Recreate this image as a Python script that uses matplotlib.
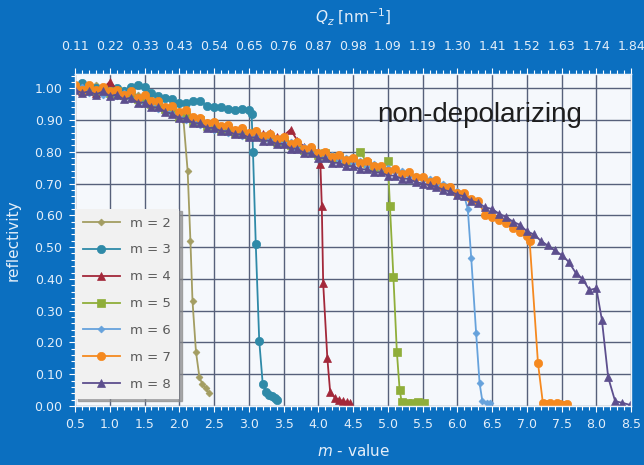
import numpy as np
import matplotlib
matplotlib.use("Agg")
import matplotlib.pyplot as plt
from matplotlib.ticker import MultipleLocator

# --- data (m-value vs reflectivity) ---
# plateau points sit on a 0.1 grid starting at m = 0.5, the cut-off points are listed by hand
m2_plateau = [1.01, 0.99, 1.005, 1.01, 0.99, 1.00, 0.985, 0.995, 0.975, 0.98,
              0.96, 0.96, 0.945, 0.94, 0.925, 0.915]
m2_drop_x = [2.06, 2.12, 2.16, 2.19, 2.24, 2.29, 2.33, 2.38, 2.43]
m2_drop_y = [0.90, 0.74, 0.52, 0.33, 0.17, 0.09, 0.07, 0.055, 0.04]

m3_plateau = [1.00, 1.015, 0.995, 1.00, 0.99, 1.005, 1.00, 0.99, 1.005, 1.01,
              1.005, 0.985, 0.975, 0.97, 0.965, 0.955, 0.955, 0.96, 0.96, 0.945,
              0.94, 0.94, 0.935, 0.93, 0.935, 0.93]
m3_drop_x = [3.04, 3.06, 3.10, 3.15, 3.20, 3.25, 3.29, 3.33, 3.37, 3.41]
m3_drop_y = [0.92, 0.80, 0.51, 0.205, 0.07, 0.045, 0.035, 0.03, 0.025, 0.02]

m4_plateau = [1.00, 0.99, 1.005, 0.985, 1.00, 1.02, 0.995, 0.98, 0.985, 0.97,
              0.975, 0.955, 0.96, 0.94, 0.94, 0.925, 0.92, 0.905, 0.905, 0.89,
              0.89, 0.875, 0.88, 0.87, 0.875, 0.86, 0.865, 0.855, 0.86, 0.845,
              0.85, 0.87, 0.835, 0.815, 0.815, 0.80]
m4_drop_x = [4.03, 4.05, 4.07, 4.13, 4.17, 4.24, 4.30, 4.36, 4.41, 4.46]
m4_drop_y = [0.76, 0.63, 0.386, 0.15, 0.045, 0.025, 0.02, 0.015, 0.012, 0.01]

m5_plateau = [1.005, 0.995, 1.00, 0.99, 0.995, 0.985, 0.99, 0.98, 0.98, 0.965,
              0.965, 0.95, 0.95, 0.935, 0.93, 0.91, 0.915, 0.895, 0.90, 0.88,
              0.885, 0.87, 0.875, 0.86, 0.865, 0.85, 0.855, 0.845, 0.845, 0.83,
              0.835, 0.82, 0.82, 0.805, 0.805, 0.79, 0.795, 0.78, 0.785, 0.77,
              0.775, 0.80, 0.765, 0.75, 0.75]
m5_drop_x = [5.00, 5.03, 5.08, 5.13, 5.17, 5.20, 5.28, 5.36, 5.44, 5.52]
m5_drop_y = [0.77, 0.63, 0.407, 0.17, 0.05, 0.012, 0.01, 0.01, 0.012, 0.01]

m6_plateau = [0.995, 1.005, 0.985, 0.995, 0.98, 0.99, 0.975, 0.985, 0.965, 0.97,
              0.95, 0.955, 0.935, 0.935, 0.92, 0.915, 0.90, 0.90, 0.885, 0.885,
              0.87, 0.875, 0.86, 0.865, 0.85, 0.86, 0.845, 0.85, 0.835, 0.84,
              0.825, 0.83, 0.81, 0.815, 0.795, 0.80, 0.785, 0.79, 0.775, 0.78,
              0.765, 0.77, 0.755, 0.76, 0.745, 0.75, 0.735, 0.74, 0.725, 0.725,
              0.71, 0.715, 0.695, 0.70, 0.68, 0.675, 0.66]
m6_drop_x = [6.15, 6.20, 6.27, 6.32, 6.36, 6.42, 6.47]
m6_drop_y = [0.62, 0.465, 0.23, 0.072, 0.015, 0.01, 0.01]

m7_plateau = [1.01, 0.995, 1.01, 0.995, 1.005, 0.99, 0.995, 0.98, 0.99, 0.97,
              0.98, 0.96, 0.96, 0.94, 0.945, 0.925, 0.93, 0.91, 0.905, 0.89,
              0.895, 0.88, 0.885, 0.87, 0.875, 0.86, 0.865, 0.85, 0.855, 0.84,
              0.845, 0.825, 0.83, 0.81, 0.815, 0.795, 0.80, 0.785, 0.79, 0.775,
              0.78, 0.765, 0.77, 0.755, 0.755, 0.74, 0.745, 0.73, 0.735, 0.72,
              0.72, 0.705, 0.71, 0.69, 0.69, 0.67, 0.67, 0.65, 0.645, 0.60,
              0.595, 0.585, 0.575, 0.56, 0.547, 0.535]
m7_drop_x = [7.04, 7.16, 7.23, 7.28, 7.33, 7.38, 7.43, 7.48, 7.53, 7.58]
m7_drop_y = [0.52, 0.135, 0.01, 0.005, 0.008, 0.004, 0.01, 0.006, 0.004, 0.005]

m8_plateau = [0.995, 0.985, 0.99, 0.98, 0.99, 0.975, 0.98, 0.965, 0.97, 0.955,
              0.955, 0.94, 0.94, 0.925, 0.92, 0.905, 0.905, 0.89, 0.89, 0.875,
              0.875, 0.865, 0.865, 0.855, 0.855, 0.845, 0.845, 0.835, 0.835, 0.825,
              0.825, 0.81, 0.81, 0.795, 0.795, 0.78, 0.78, 0.765, 0.765, 0.755,
              0.755, 0.745, 0.745, 0.735, 0.735, 0.725, 0.725, 0.715, 0.715, 0.705,
              0.70, 0.695, 0.69, 0.68, 0.675, 0.665, 0.66, 0.645, 0.64, 0.625,
              0.62, 0.605, 0.595, 0.58, 0.57, 0.55, 0.54, 0.52, 0.505, 0.49,
              0.475, 0.454, 0.42, 0.40, 0.365, 0.37]
m8_drop_x = [8.08, 8.17, 8.27, 8.37, 8.49]
m8_drop_y = [0.27, 0.09, 0.015, 0.01, 0.003]

m_ticks = [0.5, 1.0, 1.5, 2.0, 2.5, 3.0, 3.5, 4.0, 4.5, 5.0, 5.5, 6.0, 6.5, 7.0, 7.5, 8.0, 8.5]
qz_labels = ['0.11', '0.22', '0.33', '0.43', '0.54', '0.65', '0.76', '0.87', '0.98',
             '1.09', '1.19', '1.30', '1.41', '1.52', '1.63', '1.74', '1.84']
y_ticks = [0.0, 0.1, 0.2, 0.3, 0.4, 0.5, 0.6, 0.7, 0.8, 0.9, 1.0]

series = [
    ('m = 2', m2_plateau, m2_drop_x, m2_drop_y, '#a39d62', 'D', 3.5),
    ('m = 3', m3_plateau, m3_drop_x, m3_drop_y, '#2f8aa8', 'o', 6.0),
    ('m = 4', m4_plateau, m4_drop_x, m4_drop_y, '#a3283a', '^', 5.5),
    ('m = 5', m5_plateau, m5_drop_x, m5_drop_y, '#8fae3a', 's', 5.5),
    ('m = 6', m6_plateau, m6_drop_x, m6_drop_y, '#66a2dc', 'D', 3.5),
    ('m = 7', m7_plateau, m7_drop_x, m7_drop_y, '#f5891f', 'o', 6.0),
    ('m = 8', m8_plateau, m8_drop_x, m8_drop_y, '#5d4f8e', '^', 5.5),
]

BG = '#0b6fc0'
TXT = '#e3eef9'
NARROW = ['Liberation Sans Narrow', 'DejaVu Sans']

fig = plt.figure(figsize=(6.44, 4.65), dpi=100, facecolor=BG)
ax = fig.add_axes([0.1165, 0.127, 0.8635, 0.714])
ax.set_facecolor('#f5f8fc')

for label, plateau, dx, dy, color, marker, ms in series:
    grid = 0.5 + 0.1 * np.arange(len(plateau))
    xs = list(grid) + dx
    ys = plateau + dy
    ax.plot(xs, ys, color=color, marker=marker, markersize=ms, linewidth=1.3,
            markeredgewidth=0.5, label=label)

ax.set_xlim(0.5, 8.5)
ax.set_ylim(0, 1.045)
ax.set_xticks(m_ticks)
ax.set_xticklabels([f'{v:.1f}' for v in m_ticks])
ax.set_yticks(y_ticks)
ax.set_yticklabels([f'{v:.2f}' for v in y_ticks])
ax.xaxis.set_minor_locator(MultipleLocator(0.1))
ax.yaxis.set_minor_locator(MultipleLocator(0.02))
ax.grid(True, which='major', color='#56607a', linewidth=1.0)
ax.set_axisbelow(True)

ax.tick_params(which='both', colors='white', labelcolor=TXT, labelsize=9,
               direction='out', width=0.8)
ax.tick_params(which='major', length=4, pad=5)
ax.tick_params(which='minor', length=3)
for lbl in ax.get_xticklabels() + ax.get_yticklabels():
    lbl.set_family(NARROW)
for side in ['left', 'bottom', 'top', 'right']:
    ax.spines[side].set_color('#eef4fb')
    ax.spines[side].set_linewidth(1.0)

ax.set_xlabel('$m$ - value', color=TXT, fontsize=11, labelpad=8)
ax.set_ylabel('reflectivity', color=TXT, fontsize=11, labelpad=10)

secax = ax.secondary_xaxis('top')
secax.set_xticks(m_ticks)
secax.set_xticklabels(qz_labels)
secax.xaxis.set_minor_locator(MultipleLocator(0.1))
secax.tick_params(which='both', colors='white', labelcolor=TXT, labelsize=9,
                  direction='out', width=0.8)
secax.tick_params(which='major', length=4, pad=11)
secax.tick_params(which='minor', length=3)
for lbl in secax.get_xticklabels():
    lbl.set_family(NARROW)
secax.spines['top'].set_color('#eef4fb')
secax.set_xlabel('$Q_z$ [nm$^{-1}$]', color=TXT, fontsize=11, labelpad=12)

ax.text(4.84, 0.915, 'non-depolarizing', fontsize=20, family='Liberation Sans',
        color='#1e1e1e', va='center', ha='left')

leg = ax.legend(loc='lower left', bbox_to_anchor=(0.0, 0.022), borderaxespad=0,
                fontsize=9.5, handlelength=2.8, labelspacing=1.05, borderpad=0.6,
                frameon=True, fancybox=False, shadow={'color': '#8a8a8a', 'alpha': 0.7})
leg.get_frame().set_facecolor('#f1f1f1')
leg.get_frame().set_edgecolor('none')
leg.get_frame().set_alpha(1.0)
for t in leg.get_texts():
    t.set_color('#5a5a5a')

fig.savefig('out.png', dpi=100, facecolor=fig.get_facecolor())
